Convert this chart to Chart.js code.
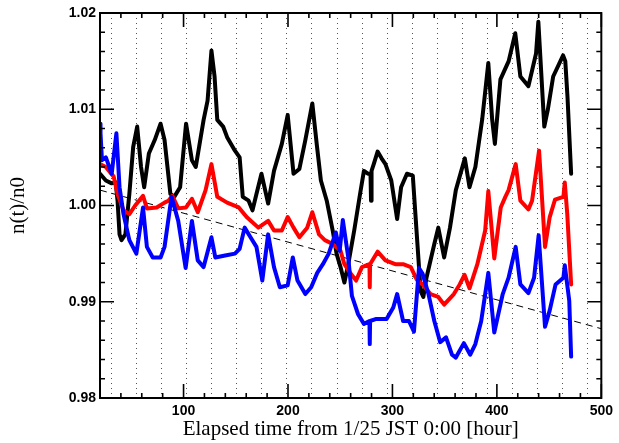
<!DOCTYPE html>
<html>
<head>
<meta charset="utf-8">
<script src="https://cdn.jsdelivr.net/npm/chart.js@4.4.1/dist/chart.umd.min.js"></script>
<style>
html,body{margin:0;padding:0;background:#fff;}
#c{display:block;}
</style>
</head>
<body>
<canvas id="c" width="619" height="443"></canvas>
<script>
// ---- data ----
const blackX = [20.0,25.6,31.2,35.0,36.8,38.7,40.6,44.3,48.1,51.8,55.6,59.3,62.3,66.8,72.4,78.0,81.8,87.4,91.1,96.7,102.4,108.0,111.7,119.2,123.0,126.7,129.7,132.3,137.9,141.7,149.2,153.7,156.7,162.3,166.0,169.8,174.6,181.0,186.6,194.1,199.7,205.3,210.9,216.6,223.3,227.8,231.5,237.1,242.8,246.5,250.3,254.0,257.7,263.4,269.0,272.7,276.5,279.0,279.5,280.0,282.1,285.8,289.6,293.3,298.9,304.5,308.3,313.9,319.5,323.3,327.0,329.6,332.6,340.1,343.9,349.5,355.1,360.7,369.3,373.8,379.4,386.0,391.8,395.5,398.1,403.4,411.3,417.6,422.5,430.2,437.5,439.7,445.4,448.7,453.9,463.4,465.5,467.6,471.1];
const blackY = [1.0033,1.0026,1.0023,1.0024,1.0005,0.9970,0.9964,0.9970,1.0012,1.0061,1.0082,1.0040,1.0019,1.0054,1.0068,1.0085,1.0068,1.0012,1.0009,1.0019,1.0085,1.0047,1.0040,1.0089,1.0109,1.0161,1.0134,1.0089,1.0082,1.0071,1.0057,1.0050,1.0009,1.0005,0.9995,1.0012,1.0033,1.0002,1.0036,1.0064,1.0094,1.0033,1.0038,1.0068,1.0106,1.0061,1.0026,1.0005,0.9974,0.9950,0.9936,0.9920,0.9939,0.9974,1.0012,1.0036,1.0033,1.0033,1.0005,1.0036,1.0043,1.0056,1.0049,1.0043,1.0026,0.9986,1.0019,1.0033,1.0031,0.9970,0.9911,0.9905,0.9925,0.9960,0.9977,0.9946,0.9977,1.0016,1.0049,1.0019,1.0040,1.0090,1.0148,1.0089,1.0064,1.0131,1.0150,1.0179,1.0134,1.0124,1.0158,1.0191,1.0082,1.0099,1.0134,1.0156,1.0150,1.0113,1.0033];

const redX = [20.0,25.6,33.1,36.8,42.5,48.1,53.7,61.2,64.9,74.3,81.8,85.5,89.3,94.9,102.4,108.0,113.6,121.1,126.7,132.3,141.7,152.9,160.4,171.6,181.0,186.6,194.1,199.7,205.3,210.9,218.4,223.3,229.7,235.3,242.8,250.3,254.0,259.6,265.2,270.8,278.0,278.3,278.6,285.8,293.3,302.7,310.2,317.6,323.3,328.9,336.4,343.9,349.5,358.8,364.4,369.0,373.8,381.3,388.8,391.8,397.5,403.7,408.1,411.2,418.0,422.5,430.2,433.7,440.4,446.1,450.6,455.6,463.7,465.0,467.4,471.1];
const redY = [1.0043,1.0040,1.0030,1.0012,0.9995,0.9991,1.0000,1.0010,0.9997,0.9998,1.0003,1.0005,1.0010,0.9997,0.9998,1.0007,0.9993,1.0016,1.0043,1.0009,1.0003,0.9998,0.9988,0.9977,0.9984,0.9974,0.9974,0.9988,0.9977,0.9967,0.9977,0.9993,0.9970,0.9964,0.9960,0.9953,0.9939,0.9930,0.9922,0.9936,0.9939,0.9915,0.9939,0.9952,0.9943,0.9939,0.9939,0.9936,0.9923,0.9918,0.9908,0.9905,0.9897,0.9908,0.9918,0.9928,0.9914,0.9939,0.9974,1.0015,0.9945,0.9998,1.0009,1.0016,1.0043,1.0005,0.9996,1.0005,1.0057,0.9957,0.9988,1.0006,1.0009,1.0024,0.9991,0.9918];

const blueX = [20.0,20.5,21.9,25.6,31.2,35.7,38.7,42.5,48.1,54.8,61.2,64.9,70.5,78.0,81.8,88.5,94.9,102.0,108.0,113.6,119.2,126.7,130.4,139.8,149.2,153.7,158.5,164.1,169.8,175.4,181.0,186.6,192.2,199.7,204.6,209.1,216.6,222.2,228.0,233.4,239.0,245.8,249.5,252.5,257.7,261.2,267.1,272.7,278.0,278.3,278.6,283.9,294.4,300.8,304.5,310.2,315.8,320.6,325.4,328.9,334.5,340.1,345.7,351.3,357.0,360.7,368.4,374.5,379.4,385.0,391.8,397.5,405.6,411.2,418.0,422.5,430.2,435.6,440.0,446.1,450.6,456.2,463.7,465.0,469.3,471.1];
const blueY = [1.0085,1.0075,1.0047,1.0050,1.0033,1.0075,1.0019,0.9991,0.9964,0.9950,0.9998,0.9957,0.9946,0.9946,0.9957,1.0009,0.9984,0.9935,0.9984,0.9943,0.9936,0.9967,0.9946,0.9948,0.9950,0.9955,0.9977,0.9967,0.9957,0.9922,0.9970,0.9936,0.9915,0.9917,0.9946,0.9922,0.9908,0.9915,0.9930,0.9939,0.9950,0.9972,0.9953,0.9985,0.9946,0.9906,0.9887,0.9877,0.9880,0.9856,0.9880,0.9882,0.9882,0.9894,0.9908,0.9880,0.9880,0.9869,0.9935,0.9929,0.9908,0.9880,0.9858,0.9863,0.9845,0.9842,0.9857,0.9845,0.9856,0.9880,0.9930,0.9868,0.9908,0.9925,0.9957,0.9918,0.9909,0.9925,0.9969,0.9874,0.9891,0.9918,0.9925,0.9938,0.9901,0.9843];

const trendX = [20, 500];
const trendY = [1.0016, 0.9872];

const dayLines = [30.5,54.5,78.5,102.5,126.5,150.5,174.5,198.5,222.5,246.5,270.5,294.5,318.5,342.5,366.5,390.5,414.5,438.5,462.5,486.5];

const xTickLabels = [100, 200, 300, 400, 500];
const yTickLabels = [0.98, 0.99, 1.00, 1.01, 1.02];
const xMinorStep = 20;
const yMinorStep = 0.002;

const xTitle = 'Elapsed time from 1/25 JST 0:00 [hour]';
const yTitle = 'n(t)/n0';

// ---- helpers ----
const pts = (xs, ys) => xs.map((x, i) => ({x: x, y: ys[i]}));

const dayLinePlugin = {
  id: 'dayLines',
  beforeDatasetsDraw(chart) {
    const {ctx, chartArea: a, scales: {x}} = chart;
    ctx.save();
    ctx.strokeStyle = '#555';
    ctx.lineWidth = 1;
    ctx.setLineDash([1, 4]);
    dayLines.forEach(v => {
      const px = Math.round(x.getPixelForValue(v)) + 0.5;
      ctx.beginPath();
      ctx.moveTo(px, a.top);
      ctx.lineTo(px, a.bottom);
      ctx.stroke();
    });
    ctx.restore();
  }
};

const framePlugin = {
  id: 'frameTicks',
  afterDatasetsDraw(chart) {
    const {ctx, chartArea: a, scales: {x, y}} = chart;
    ctx.save();
    ctx.strokeStyle = '#000';
    ctx.lineWidth = 1.6;
    ctx.setLineDash([]);
    const major = 14, minor = 5;
    const nx = Math.round((x.max - x.min) / xMinorStep);
    for (let i = 0; i <= nx; i++) {
      const v = x.min + i * xMinorStep;
      const len = xTickLabels.includes(Math.round(v)) ? major : minor;
      const px = x.getPixelForValue(v);
      ctx.beginPath();
      ctx.moveTo(px, a.bottom); ctx.lineTo(px, a.bottom - len);
      ctx.moveTo(px, a.top); ctx.lineTo(px, a.top + len);
      ctx.stroke();
    }
    const ny = Math.round((y.max - y.min) / yMinorStep);
    for (let i = 0; i <= ny; i++) {
      const v = y.min + i * yMinorStep;
      const len = (i % 5 === 0) ? major : minor;
      const py = y.getPixelForValue(v);
      ctx.beginPath();
      ctx.moveTo(a.left, py); ctx.lineTo(a.left + len, py);
      ctx.moveTo(a.right, py); ctx.lineTo(a.right - len, py);
      ctx.stroke();
    }
    ctx.lineWidth = 2;
    ctx.strokeRect(a.left, a.top, a.right - a.left, a.bottom - a.top);
    ctx.restore();
  }
};

const lineDs = (label, xs, ys, color, order) => ({
  label: label,
  data: pts(xs, ys),
  borderColor: color,
  backgroundColor: color,
  borderWidth: 4,
  pointRadius: 0,
  tension: 0,
  borderJoinStyle: 'round',
  borderCapStyle: 'round',
  order: order
});

new Chart(document.getElementById('c'), {
  type: 'line',
  data: {
    datasets: [
      lineDs('blue', blueX, blueY, '#0000ff', 1),
      lineDs('red', redX, redY, '#ff0000', 2),
      lineDs('black', blackX, blackY, '#000000', 3),
      {
        label: 'trend',
        data: pts(trendX, trendY),
        borderColor: '#000',
        borderWidth: 1,
        borderDash: [7, 5],
        pointRadius: 0,
        order: 4
      }
    ]
  },
  options: {
    responsive: false,
    animation: false,
    devicePixelRatio: 1,
    layout: {padding: {left: 0, right: 12, top: 13, bottom: 0}},
    plugins: {legend: {display: false}, tooltip: {enabled: false}},
    scales: {
      x: {
        type: 'linear',
        min: 20, max: 500,
        grid: {display: false, drawTicks: false},
        border: {display: false},
        afterBuildTicks: s => { s.ticks = xTickLabels.map(v => ({value: v})); },
        afterFit: s => { s.height = 45; },
        ticks: {
          color: '#000',
          padding: 6,
          maxRotation: 0,
          font: {family: 'Liberation Sans', size: 14, weight: 'bold', lineHeight: 1},
          callback: v => String(v)
        },
        title: {
          display: true,
          text: xTitle,
          color: '#000',
          font: {family: 'Liberation Serif', size: 21, lineHeight: 1},
          padding: {top: 0, bottom: 3}
        }
      },
      y: {
        type: 'linear',
        min: 0.98, max: 1.02,
        grid: {display: false, drawTicks: false},
        border: {display: false},
        afterBuildTicks: s => { s.ticks = yTickLabels.map(v => ({value: v})); },
        afterFit: s => { s.width = 100; },
        ticks: {
          color: '#000',
          padding: 4,
          font: {family: 'Liberation Sans', size: 14, weight: 'bold', lineHeight: 1},
          callback: v => Number(v).toFixed(2)
        },
        title: {
          display: true,
          text: yTitle,
          color: '#000',
          font: {family: 'Liberation Serif', size: 21, lineHeight: 1},
          padding: {top: 8, bottom: 0}
        }
      }
    }
  },
  plugins: [dayLinePlugin, framePlugin]
});
</script>
</body>
</html>
